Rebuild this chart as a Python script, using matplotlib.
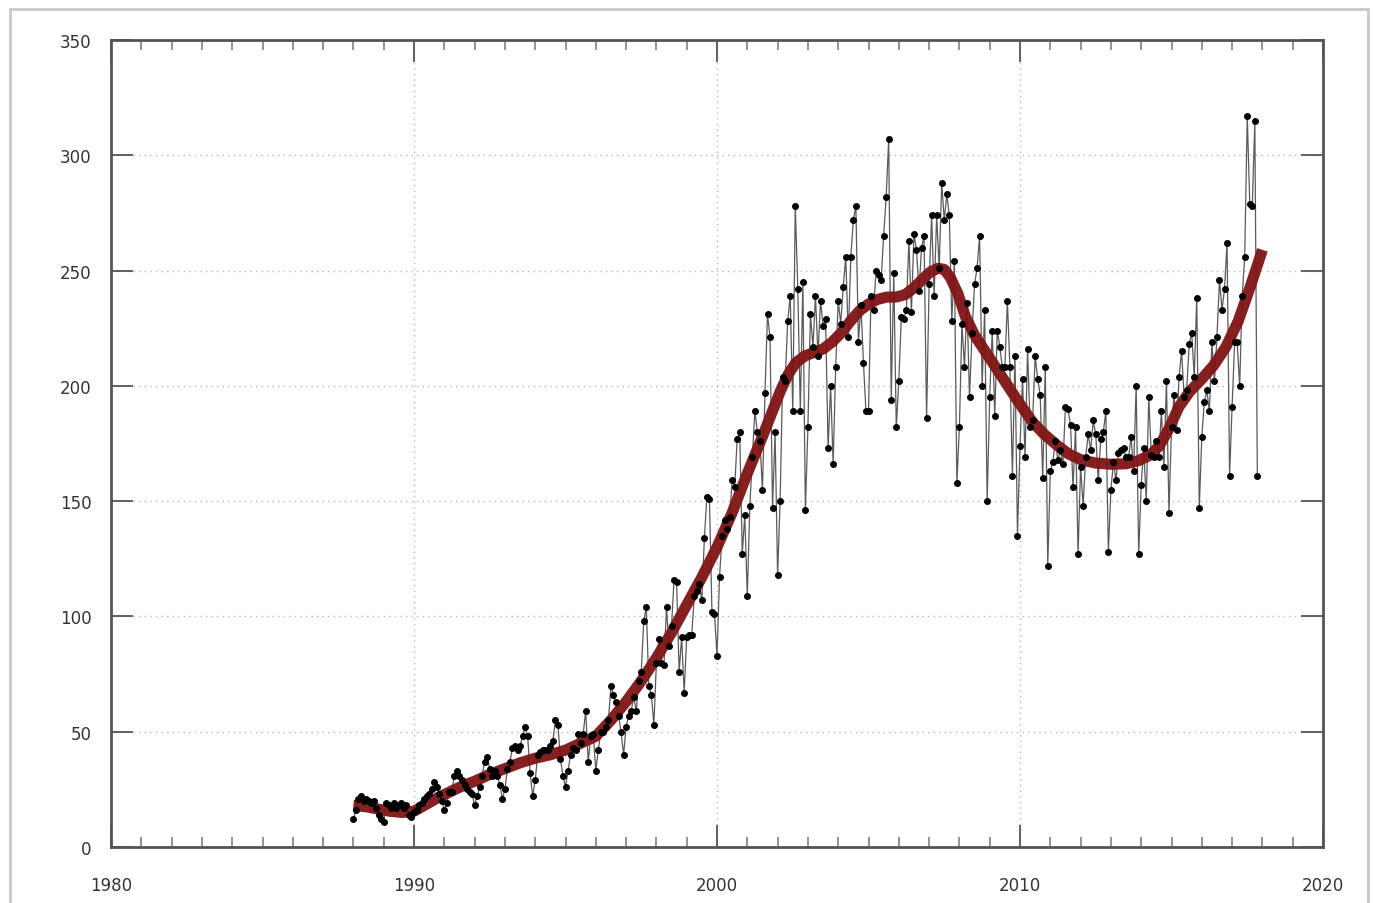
import numpy as np
import matplotlib
matplotlib.use("Agg")
import matplotlib.pyplot as plt
from matplotlib.patches import Rectangle
from matplotlib.ticker import MultipleLocator

# monthly values, Jan 1988 onwards (one row per year)
monthly_values = [
    12, 16, 21, 22, 20, 21, 20, 19, 20, 17, 14, 12,            # 1988
    11, 19, 18, 17, 19, 17, 18, 19, 17, 18, 14, 13,            # 1989
    15, 16, 18, 19, 21, 22, 23, 25, 28, 26, 23, 20,            # 1990
    16, 19, 24, 24, 31, 33, 31, 29, 27, 25, 24, 23,            # 1991
    18, 22, 26, 31, 37, 39, 34, 31, 33, 31, 27, 21,            # 1992
    25, 34, 37, 43, 44, 42, 44, 48, 52, 48, 32, 22,            # 1993
    29, 40, 41, 42, 42, 42, 44, 46, 55, 53, 38, 31,            # 1994
    26, 33, 40, 43, 42, 49, 45, 49, 59, 37, 48, 49,            # 1995
    33, 42, 50, 50, 52, 55, 70, 66, 63, 57, 50, 40,            # 1996
    52, 57, 59, 65, 59, 72, 76, 98, 104, 70, 66, 53,           # 1997
    80, 90, 80, 79, 104, 87, 96, 116, 115, 76, 91, 67,         # 1998
    91, 92, 92, 109, 111, 114, 107, 134, 152, 151, 102, 101,   # 1999
    83, 117, 135, 142, 138, 143, 159, 156, 177, 180, 127, 144, # 2000
    109, 148, 169, 189, 180, 176, 155, 197, 231, 221, 147, 180,# 2001
    118, 150, 204, 202, 228, 239, 189, 278, 242, 189, 245, 146,# 2002
    182, 231, 217, 239, 213, 237, 226, 229, 173, 200, 166, 208,# 2003
    237, 227, 243, 256, 221, 256, 272, 278, 219, 235, 210, 189,# 2004
    189, 239, 233, 250, 248, 246, 265, 282, 307, 194, 249, 182,# 2005
    202, 230, 229, 233, 263, 232, 266, 259, 241, 260, 265, 186,# 2006
    244, 274, 239, 274, 251, 288, 272, 283, 274, 228, 254, 158,# 2007
    182, 227, 208, 236, 195, 223, 244, 251, 265, 200, 233, 150,# 2008
    195, 224, 187, 224, 217, 208, 208, 237, 208, 161, 213, 135,# 2009
    174, 203, 169, 216, 182, 185, 213, 203, 196, 160, 208, 122,# 2010
    163, 167, 176, 168, 172, 166, 191, 190, 183, 156, 182, 127,# 2011
    165, 148, 169, 179, 172, 185, 179, 159, 177, 180, 189, 128,# 2012
    155, 167, 159, 171, 172, 173, 169, 169, 178, 163, 200, 127,# 2013
    157, 173, 150, 195, 170, 169, 176, 169, 189, 165, 202, 145,# 2014
    182, 196, 181, 204, 215, 195, 198, 218, 223, 204, 238, 147,# 2015
    178, 193, 198, 189, 219, 202, 221, 246, 233, 242, 262, 161,# 2016
    191, 219, 219, 200, 239, 256, 317, 279, 278, 315, 161,     # 2017
]

# smoothed trend
trend_years = [1988.0, 1988.4, 1988.8, 1989.2, 1989.6, 1990.0, 1990.4, 1990.8,
               1991.2, 1991.6, 1992.0, 1992.5, 1993.0, 1993.5, 1994.0, 1994.5,
               1995.0, 1995.5, 1996.0, 1996.5, 1997.0, 1997.5, 1998.0, 1998.5,
               1999.0, 1999.5, 2000.0, 2000.5, 2001.0, 2001.5, 2001.8, 2002.1,
               2002.35, 2002.6, 2002.9, 2003.2, 2003.5, 2003.8, 2004.1, 2004.4,
               2004.7, 2005.0, 2005.3, 2005.6, 2005.9, 2006.2, 2006.5, 2006.8,
               2007.05, 2007.3, 2007.5, 2007.7, 2007.95, 2008.2, 2008.5, 2008.75,
               2009.3, 2009.9, 2010.4, 2010.8, 2011.2, 2011.6, 2012.0, 2012.5,
               2013.0, 2013.5, 2013.9, 2014.3, 2014.6, 2014.9, 2015.25, 2015.6,
               2016.0, 2016.4, 2016.8, 2017.2, 2017.6, 2018.0]
trend_values = [18, 17.5, 16.5, 15.5, 15, 15.5, 18.5, 21.5,
                24, 26.5, 28.5, 31.5, 34, 36.5, 38.5, 40,
                42, 45, 48, 55, 63, 72, 82, 93,
                105, 117, 130, 145, 162, 178, 188, 198,
                205, 210, 213, 214.5, 216, 219, 223, 228,
                232.5, 235.5, 237.5, 238.5, 238.5, 239.5, 242.5, 246.5,
                249.5, 251, 250.5, 247, 240, 230, 222, 217,
                206, 194, 184.5, 179, 174.5, 170.5, 168, 166.5,
                166, 166.2, 167.5, 170, 174, 181, 191, 197.5,
                203, 209, 217, 228, 243, 259]

x_ticks = [1980, 1990, 2000, 2010, 2020]
y_ticks = [0, 50, 100, 150, 200, 250, 300, 350]

START_YEAR = 1988

fig = plt.figure(figsize=(13.73, 9.04), dpi=100)
fig.patch.set_facecolor("white")
# light outer frame of the original picture
fig.add_artist(Rectangle((10 / 1373, -0.05), 1358 / 1373, 1.05 - 10 / 904,
                         transform=fig.transFigure, fill=False,
                         edgecolor="#c8c8c8", linewidth=2))

ax = fig.add_axes([111 / 1373, 1 - 848 / 904, 1212 / 1373, 807 / 904])

years = START_YEAR + np.arange(len(monthly_values)) / 12.0
ax.plot(years, monthly_values, color="#5a5a5a", linewidth=0.9, zorder=2)
ax.plot(trend_years, trend_values, color="#801414", linewidth=8,
        solid_capstyle="butt", solid_joinstyle="round", alpha=0.95, zorder=3)
ax.plot(years, monthly_values, linestyle="none", marker="o", markersize=4,
        color="black", zorder=4)

ax.set_xlim(1980, 2020)
ax.set_ylim(0, 350)
ax.set_xticks(x_ticks)
ax.set_yticks(y_ticks)
ax.xaxis.set_minor_locator(MultipleLocator(1))

ax.grid(True, which="major", linestyle=(0, (1, 3)), color="#b8b8b8", linewidth=1)
ax.set_axisbelow(True)

for side in ["left", "right", "top", "bottom"]:
    ax.spines[side].set_color("#555555")
    ax.spines[side].set_linewidth(2)

ax.tick_params(axis="both", which="major", direction="in", length=16, width=1.3,
               color="#555555", top=True, right=True, labelsize=12,
               labelcolor="#333333")
ax.tick_params(axis="x", which="minor", direction="in", length=7, width=1.1,
               color="#777777", top=True)
ax.tick_params(axis="x", which="major", pad=21)
ax.tick_params(axis="y", which="major", pad=14)

fig.savefig("out.png", dpi=100)
